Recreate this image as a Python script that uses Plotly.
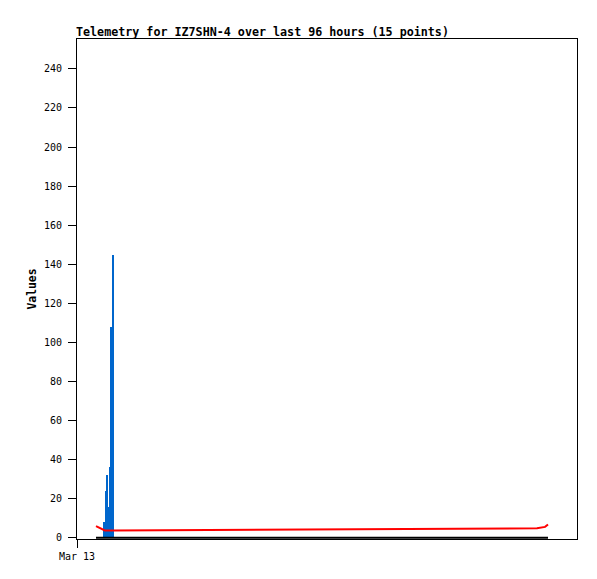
import plotly.graph_objects as go

# --- DATA ---
times = [
    "2024-03-13 03:39", "2024-03-13 04:08", "2024-03-13 04:37", "2024-03-13 05:05",
    "2024-03-13 05:20", "2024-03-13 05:34", "2024-03-13 05:46", "2024-03-13 06:01",
    "2024-03-13 06:28", "2024-03-13 06:40", "2024-03-13 06:55",
    "2024-03-16 16:19", "2024-03-16 17:05", "2024-03-16 17:52", "2024-03-16 18:26",
]
blue_vals = [0, 0, 0, 0, 8, 24, 32, 16, 36, 108, 145, 0, 0, 0, 0]
red_vals = [6.0, 5.3, 4.6, 3.9, 3.8, 3.8, 3.8, 3.8, 3.7, 3.7, 3.7, 4.9, 5.2, 5.6, 6.8]
black_vals = [0] * 15

x_start = "2024-03-13 00:00"
x_end = "2024-03-17 00:00"
tick_vals = ["2024-03-13 00:00"]
tick_text = ["Mar 13"]

mono = "DejaVu Sans Mono"
bar_ms = 0.36 * 3600 * 1000

fig = go.Figure()
fig.add_trace(go.Bar(x=times, y=blue_vals, width=[bar_ms] * len(times),
                     marker=dict(color="#0066cc", line=dict(width=0)),
                     showlegend=False))
fig.add_trace(go.Scatter(x=times, y=red_vals, mode="lines",
                         line=dict(color="#ff0000", width=2), showlegend=False))
fig.add_trace(go.Scatter(x=times, y=black_vals, mode="lines",
                         line=dict(color="#000000", width=2), showlegend=False))

# page body has an 8px margin, so the figure is shrunk to fit the window
fig.update_layout(
    width=589, height=571,
    margin=dict(l=69, r=20, t=31, b=40),
    paper_bgcolor="white", plot_bgcolor="white",
    font=dict(family=mono, size=10, color="#000"),
    bargap=0,
    annotations=[dict(
        text="<b>Telemetry for IZ7SHN-4 over last 96 hours (15 points)</b>",
        xref="paper", yref="paper", x=0, y=1, xanchor="left", yanchor="bottom",
        xshift=-3, yshift=-2, showarrow=False,
        font=dict(family=mono, size=11.7, color="#000"),
    )],
)
fig.update_xaxes(
    type="date", range=[x_start, x_end],
    tickvals=tick_vals, ticktext=tick_text,
    ticks="outside", ticklen=8, tickcolor="#000",
    showline=True, linecolor="#000", linewidth=1, mirror=True,
    showgrid=False, zeroline=False,
)
fig.update_yaxes(
    range=[-0.6, 255.3], tickvals=list(range(0, 241, 20)),
    ticks="outside", ticklen=8, tickcolor="#000", ticklabelstandoff=4,
    showline=True, linecolor="#000", linewidth=1, mirror=True,
    showgrid=False, zeroline=False,
    title=dict(text="<b>Values</b>", font=dict(family=mono, size=11.4), standoff=4),
)

fig.write_html("out.html")
